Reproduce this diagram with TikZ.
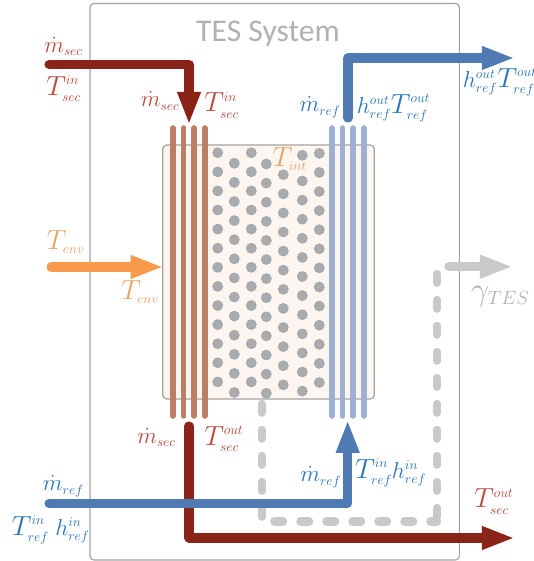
\documentclass[tikz,border=0pt]{standalone}
\usepackage{fontspec}
\usepackage{amsmath}
\usepackage{xcolor}
\usepackage{tikz}
\usetikzlibrary{arrows.meta,positioning}
\newfontfamily\titlefont{Carlito}
\DeclareMathSizes{17.28}{17.28}{10}{8}
\DeclareMathSizes{20.74}{20.74}{10}{8}
\DeclareMathSizes{24.88}{24.88}{14.4}{10}
\definecolor{frame}{HTML}{A3A3A3}
\definecolor{tank}{HTML}{FDF6F0}
\definecolor{bead}{HTML}{A9ACAF}
\definecolor{secdark}{HTML}{8B2418}
\definecolor{secpipe}{HTML}{BD7E66}
\definecolor{sectext}{HTML}{BE4A3C}
\definecolor{refdark}{HTML}{4F7AB3}
\definecolor{refpipe}{HTML}{9FB0D2}
\definecolor{reftext}{HTML}{2B75BC}
\definecolor{envdark}{HTML}{F79A4B}
\definecolor{envtext}{HTML}{EBA268}
\definecolor{lossgray}{HTML}{C8C9CA}
\definecolor{losstext}{HTML}{B0B1B3}

\begin{document}
\begin{tikzpicture}[x=0.75pt,y=-0.75pt,
   flow/.style={#1,line width=6.8pt,line cap=round,line join=round,
      -{Triangle[length=24.8pt,width=16pt]}},
   lossdash/.style={lossgray,line width=6.3pt,line cap=round,dash pattern=on 6.5pt off 13pt},
   pipe/.style={#1,line width=4.2pt,line cap=round},
   beadnode/.style={circle,fill=bead,draw=bead!90!black,line width=0.3pt,inner sep=0pt,minimum size=7.6pt},
   sym/.style={anchor=base west,inner sep=0pt,text=#1}]
  \useasboundingbox (0,0) rectangle (533,561);
  % System frame
  \node[draw=frame,line width=0.9pt,rounded corners=3pt,inner sep=0pt,
     minimum width=277pt,minimum height=417.4pt] (system) at (274.7,281.7) {};
  \node[font=\titlefont\fontsize{23.7}{28}\selectfont,text=losstext,anchor=base] (title) at (268,41) {TES System};
  % Storage tank
  \node[draw=frame,fill=tank,line width=0.9pt,rounded corners=3pt,inner sep=0pt,
     minimum width=158.6pt,minimum height=190.5pt] (tes) at (268.5,272) {};
  \foreach \x/\y/\n [count=\c] in {217.7/152.7/13,234.3/163.3/13,251.3/152.7/13,266.3/164/13,
      283.3/174.7/12,302.3/181/12,319.3/153.3/13}{
    \foreach \i in {1,...,\n}{
      \node[beadnode] (b\c-\i) at (\x,\y+19.1*\i-19.1) {};}
  }
  \node[beadnode] (b6-0) at (302.3,155.3) {};
  % Heat exchanger tubes
  \foreach \x in {173,183.6,194,204.7}{
    \draw[pipe=secpipe] (\x,128) -- (\x,416);}
  \foreach \x in {331.7,342.3,353,363.7}{
    \draw[pipe=refpipe] (\x,128) -- (\x,416);}
  % Losses
  \coordinate (lossA) at (261.7,404);
  \coordinate (lossB) at (437,521.3);
  \coordinate (lossC) at (437,274);
  \coordinate (lossD) at (449,266.7);
  \coordinate (lossE) at (513,266.7);
  \draw[lossdash] (lossA) |- (lossB);
  \draw[lossdash] (lossC) -- (lossB);
  \draw[flow=lossgray] (lossD) -- (lossE);
  % Secondary loop
  \coordinate (secA) at (49,64.5);
  \coordinate (secB) at (189,125);
  \coordinate (secC) at (189,426);
  \coordinate (secD) at (515,538);
  \draw[flow=secdark] (secA) -| (secB);
  \draw[flow=secdark] (secC) |- (secD);
  % Refrigerant loop
  \coordinate (refA) at (49,503.3);
  \coordinate (refB) at (347.7,419.7);
  \coordinate (refC) at (348,118);
  \coordinate (refD) at (515,58);
  \draw[flow=refdark] (refA) -| (refB);
  \draw[flow=refdark] (refC) |- (refD);
  % Environment
  \coordinate (envA) at (51,267);
  \coordinate (envB) at (163.7,267);
  \draw[flow=envdark] (envA) -- (envB);
  % Labels
  \foreach \nm/\f/\x/\y/\lab in {sa/\LARGE/44/52/{\dot m_{sec}},sb/\huge/46/95/{T^{in}_{sec}},
      sc/\LARGE/140.7/106.7/{\dot m_{sec}},sd/\huge/204/111.7/{T^{in}_{sec}},
      se/\LARGE/137/443/{\dot m_{sec}},sf/\huge/204/445/{T^{out}_{sec}},sg/\huge/474/507.3/{T^{out}_{sec}}}{
    \node[sym=sectext,font=\f] (\nm) at (\x,\y) {$\lab$};}
  \foreach \nm/\f/\x/\y/\lab in {ra/\LARGE/299.3/111.7/{\dot m_{ref}},rb/\LARGE/356.7/113/{h^{out}_{ref}},
      rc/\huge/390.7/113/{T^{out}_{ref}},rd/\LARGE/462.7/87/{h^{out}_{ref}},re/\huge/497.3/87/{T^{out}_{ref}},
      rf/\LARGE/42.7/490.7/{\dot m_{ref}},rg/\huge/11.7/535/{T^{in}_{ref}},rh/\LARGE/55/535/{h^{in}_{ref}},
      ri/\LARGE/300/481.7/{\dot m_{ref}},rj/\huge/355/478/{T^{in}_{ref}},rk/\LARGE/391.7/478/{h^{in}_{ref}}}{
    \node[sym=reftext,font=\f] (\nm) at (\x,\y) {$\lab$};}
  \foreach \nm/\x/\y/\lab in {ea/272.7/166.7/{T_{int}},eb/46.7/249.3/{T_{env}},ec/121/299.3/{T_{env}}}{
    \node[sym=envtext,font=\huge] (\nm) at (\x,\y) {$\lab$};}
  \node[sym=losstext,font=\Huge] (gamma) at (470.7,300) {$\gamma_{TES}$};
\end{tikzpicture}
\end{document}
